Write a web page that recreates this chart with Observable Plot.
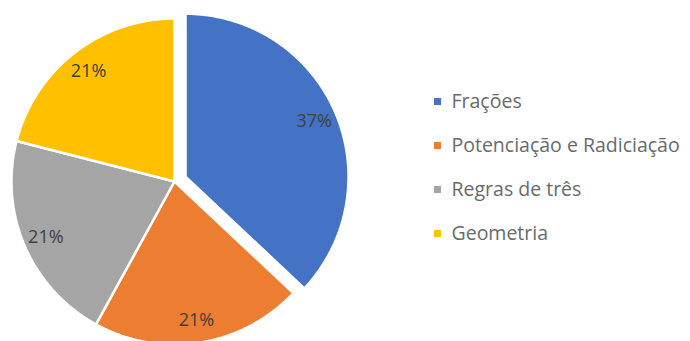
<!DOCTYPE html>
<html>
<head>
<meta charset="utf-8">
<script src="https://cdn.jsdelivr.net/npm/d3@7"></script>
<script src="https://cdn.jsdelivr.net/npm/@observablehq/plot@0.6"></script>
<style>
  html, body { margin: 0; padding: 0; background: #fff; }
  #chart { width: 690px; height: 341px; }
</style>
</head>
<body>
<div id="chart"></div>
<script>
// ---- data ----
const categories = ["Frações", "Potenciação e Radiciação", "Regras de três", "Geometria"];
const values = [37, 21, 21, 21];
const labels = ["37%", "21%", "21%", "21%"];
const colors = ["#4472C4", "#ED7D31", "#A5A5A5", "#FFC000"];
const exploded = [true, false, false, false];

// ---- layout ----
const W = 690, H = 341;
const cx = 174, cy = 181, R = 163, explode = 12, labelR = 0.86;

const pie = d3.pie().sort(null).value(d => d)(values);

const slicePts = [];
const labelPts = [];
pie.forEach((p, i) => {
  const mid = (p.startAngle + p.endAngle) / 2;
  const off = exploded[i] ? explode : 0;
  const ox = cx + off * Math.sin(mid), oy = cy - off * Math.cos(mid);
  slicePts.push({cat: categories[i], x: ox, y: oy});
  const n = Math.max(2, Math.ceil((p.endAngle - p.startAngle) / 0.01));
  for (let k = 0; k <= n; k++) {
    const a = p.startAngle + (p.endAngle - p.startAngle) * k / n;
    slicePts.push({cat: categories[i], x: ox + R * Math.sin(a), y: oy - R * Math.cos(a)});
  }
  slicePts.push({cat: categories[i], x: ox, y: oy});
  labelPts.push({cat: categories[i], label: labels[i],
    x: ox + labelR * R * Math.sin(mid), y: oy - labelR * R * Math.cos(mid)});
});

const legendX = 437, legendY0 = 101, legendStep = 44;
const legend = categories.map((c, i) => ({cat: c, x: legendX, y: legendY0 + i * legendStep}));

const chart = Plot.plot({
  width: W, height: H,
  margin: 0,
  x: {domain: [0, W], range: [0, W], axis: null},
  y: {domain: [0, H], range: [0, H], axis: null},
  color: {domain: categories, range: colors},
  style: {fontFamily: "'Open Sans', sans-serif", background: "#fff"},
  marks: [
    Plot.line(slicePts, {x: "x", y: "y", z: "cat", fill: "cat", stroke: "white", strokeWidth: 2.5, strokeLinejoin: "miter", curve: "linear"}),
    Plot.text(labelPts, {x: "x", y: "y", text: "label", fill: "#404040", fontSize: 18}),
    Plot.dot(legend, {x: "x", y: "y", symbol: "square", r: 4, fill: "cat", stroke: null}),
    Plot.text(legend, {x: d => d.x + 14, y: "y", text: "cat", textAnchor: "start", fill: "#6a6a6a", fontSize: 19.5})
  ]
});
document.getElementById("chart").appendChild(chart);
</script>
</body>
</html>
